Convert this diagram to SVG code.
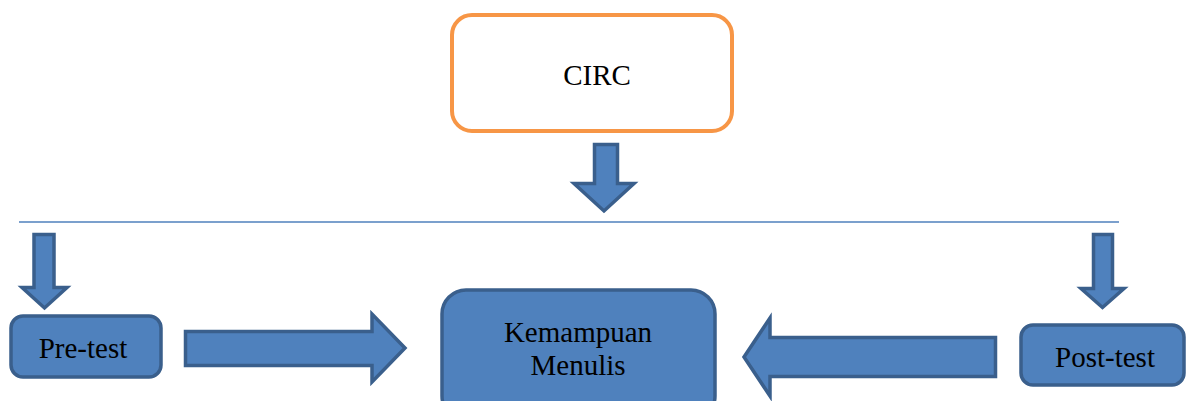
<svg xmlns="http://www.w3.org/2000/svg" width="1187" height="401" viewBox="0 0 1187 401">
<style>
.blue{fill:#4F81BD;stroke:#3A5F8C;stroke-width:3.5;stroke-linejoin:miter}
.t{font-family:"Liberation Serif","Times New Roman",serif;font-size:29px;fill:#000;text-anchor:middle}
</style>
<rect width="1187" height="401" fill="#fff"/>
<g id="connectors">
<line x1="19" y1="222" x2="1119" y2="222" stroke="#4F81BD" stroke-width="1.5"/>
<polygon class="blue" points="594.5,144.5 617.5,144.5 617.5,183.5 634,183.5 604,211 574,183.5 594.5,183.5"/>
<polygon class="blue" points="34,234.5 54,234.5 54,287.5 67,287.5 44.5,308 22,287.5 34,287.5"/>
<polygon class="blue" points="1093.5,234.5 1112.5,234.5 1112.5,288.5 1124,288.5 1102.5,307.5 1081,288.5 1093.5,288.5"/>
<polygon class="blue" points="185.5,331.5 372,331.5 372,314 405,348 372,382 372,365.5 185.5,365.5"/>
<polygon class="blue" points="995.5,337.5 770,337.5 770,318 744,357 770,396 770,376.5 995.5,376.5"/>
</g>
<g id="circ">
<rect x="452" y="15" width="280" height="116" rx="20" ry="20" fill="#fff" stroke="#F79646" stroke-width="4"/>
<text class="t" x="597" y="85">CIRC</text>
</g>
<g id="pretest">
<rect class="blue" x="11" y="316" width="150" height="61" rx="12" ry="12"/>
<text class="t" x="83" y="358">Pre-test</text>
</g>
<g id="kemampuan">
<rect class="blue" x="442" y="290" width="273" height="130" rx="24" ry="24"/>
<text class="t" x="578" y="342">Kemampuan</text>
<text class="t" x="578" y="375">Menulis</text>
</g>
<g id="posttest">
<rect class="blue" x="1021" y="325" width="163" height="60" rx="12" ry="12"/>
<text class="t" x="1105" y="367">Post-test</text>
</g>
</svg>
